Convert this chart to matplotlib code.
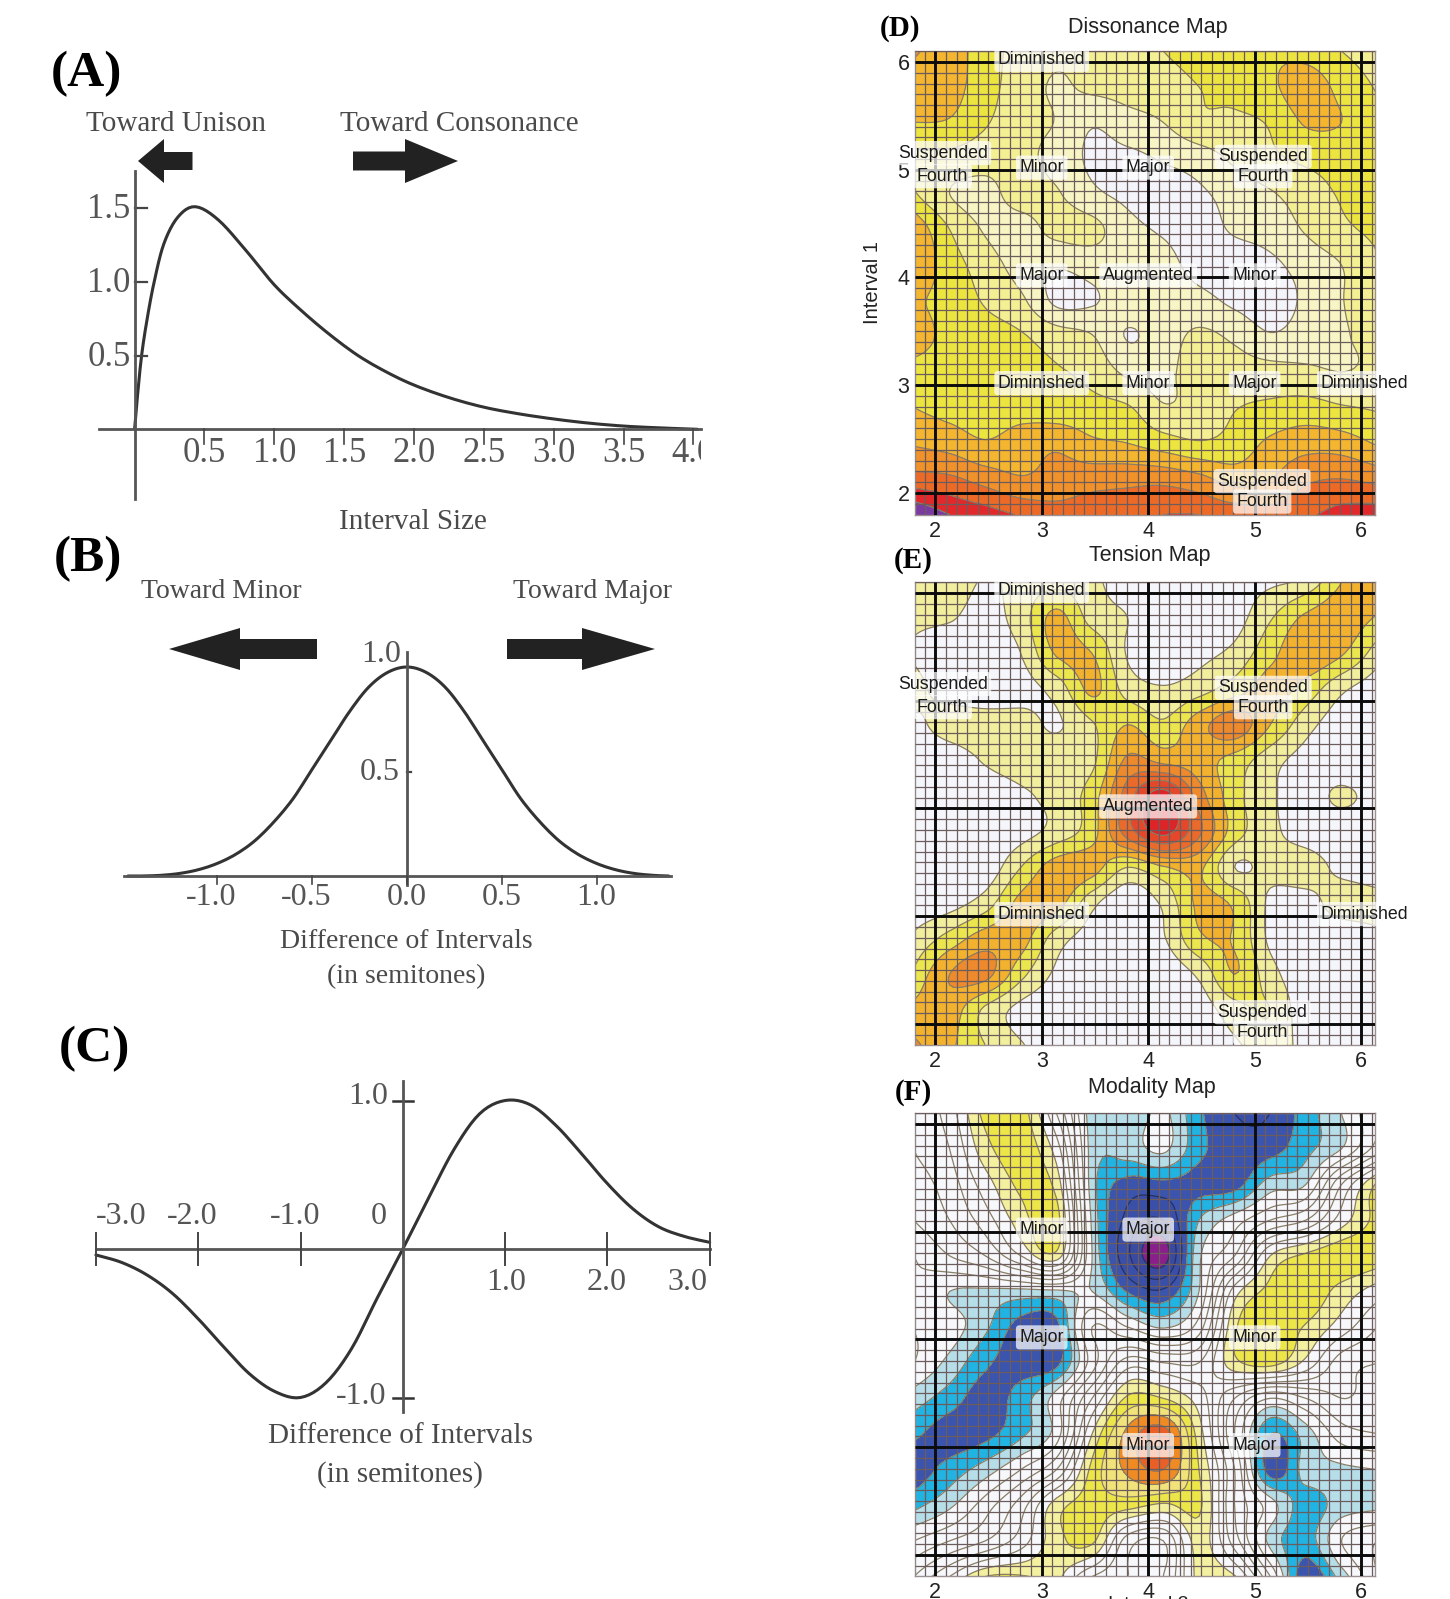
import numpy as np
import matplotlib
matplotlib.use("Agg")
import matplotlib.pyplot as plt
from matplotlib.patches import Polygon

W, H = 1450, 1599
SER = "Liberation Serif"
SAN = "Liberation Sans"

# ---------- curve data ----------
a_x = [0, .02, .05, .09, .14, .21, .31, .435, .6, .8, 1.0, 1.2, 1.4, 1.6, 1.8, 2.0, 2.25, 2.5, 2.75, 3.0, 3.25, 3.5, 3.75, 4.03]
a_y = [0, .22, .5, .75, 1.0, 1.26, 1.44, 1.51, 1.42, 1.21, .98, .80, .64, .50, .39, .30, .215, .15, .105, .07, .042, .022, .01, 0]
b_x = [-1.47, -1.4, -1.3, -1.2, -1.1, -1.0, -.9, -.8, -.7, -.6, -.5, -.4, -.3, -.2, -.1, 0, .1, .2, .3, .4, .5, .6, .7, .8, .9, 1.0, 1.1, 1.2, 1.3, 1.38]
b_y = [0, 0, .003, .012, .03, .06, .105, .17, .26, .37, .51, .65, .79, .905, .975, 1, .975, .905, .79, .65, .51, .37, .26, .17, .105, .06, .03, .012, .003, 0]
c_x = [-3, -2.75, -2.5, -2.25, -2, -1.75, -1.5, -1.25, -1, -.75, -.5, -.25, 0, .25, .5, .75, 1, 1.25, 1.5, 1.75, 2, 2.25, 2.5, 2.75, 3]
c_y = [-.04, -.09, -.175, -.30, -.47, -.66, -.84, -.96, -1.0, -.90, -.67, -.33, 0, .34, .67, .91, 1.0, .97, .83, .64, .44, .27, .15, .085, .045]

a_ticks_x = [0.5, 1.0, 1.5, 2.0, 2.5, 3.0, 3.5, 4.0]
a_ticks_y = [0.5, 1.0, 1.5]
b_ticks_x = [-1.0, -0.5, 0.0, 0.5, 1.0]
c_ticks_x = [-3.0, -2.0, -1.0, 1.0, 2.0, 3.0]

# ---------- map data (rows top to bottom) ----------
map_x = np.linspace(1.8, 6.15, 14)
map_y = np.linspace(6.10, 1.80, 14)

dissonance = [
 [5.1,4.5,3.5,2.6,2.2,2.3,2.6,3.0,3.4,3.7,3.9,3.6,3.0,2.4],
 [4.6,4.4,3.4,2.5,1.9,2.2,2.4,2.6,3.0,3.3,3.8,4.5,3.7,2.9],
 [4.0,3.9,3.1,2.4,1.95,1.1,1.6,2.0,2.8,2.8,3.1,4.1,4.0,3.3],
 [2.8,2.7,2.4,2.3,1.6,.85,.8,1.1,1.5,2.2,2.8,3.2,3.4,3.5],
 [3.1,2.0,1.7,2.4,2.1,1.2,.8,.6,.85,1.4,1.9,2.5,3.1,3.4],
 [4.8,3.0,1.9,1.6,2.3,2.3,1.3,.9,.7,1.1,1.4,2.1,2.8,3.2],
 [4.9,3.5,2.5,1.6,1.1,1.4,1.5,1.3,.7,.6,.8,1.4,2.0,2.9],
 [4.2,3.6,2.9,2.2,.8,.9,1.5,1.5,1.3,.8,.5,1.2,1.95,2.7],
 [4.5,3.7,3.4,3.1,2.5,2.05,.95,1.5,2.2,1.8,1.1,1.5,1.9,2.3],
 [3.7,3.6,3.5,3.3,3.1,2.7,1.8,1.7,2.6,2.5,2.4,2.2,2.0,2.2],
 [4.0,3.7,3.5,3.6,3.4,3.3,3.1,2.1,2.4,2.95,3.2,3.4,3.1,2.9],
 [4.9,4.6,4.1,4.5,4.8,4.2,4.0,3.5,3.1,3.4,4.2,4.6,4.5,3.9],
 [6.4,6.2,5.6,5.1,5.4,5.6,5.7,5.7,5.3,4.6,5.0,5.8,6.0,5.7],
 [9.0,8.0,7.5,6.9,6.4,6.6,6.7,7.0,7.0,6.7,6.4,6.8,7.4,7.6],
]
tension = [
 [1.5,1.6,.9,1.3,1.6,1.2,.5,.3,.4,.6,.8,1.3,3.0,4.0],
 [1.2,1.1,.6,1.5,3.3,1.6,1.0,.3,.3,.6,1.9,3.2,3.6,2.9],
 [.9,.3,.3,1.0,3.1,3.0,.9,.3,.7,1.3,2.7,3.7,3.1,1.5],
 [1.3,.6,.3,.6,1.4,3.2,1.6,1.1,1.6,2.5,3.4,2.6,1.2,.4],
 [.7,1.4,1.5,1.4,.9,1.9,3.0,2.2,3.6,4.6,3.0,1.4,.4,.2],
 [.2,.4,1.1,1.5,1.6,1.8,4.2,3.7,3.4,2.6,1.4,.6,.2,.2],
 [.1,.1,.3,.8,1.4,2.5,5.5,7.5,4.5,2.4,1.2,.5,1.2,.5],
 [.1,.1,.2,.6,1.4,2.6,5.5,7.3,5.2,2.5,1.3,.5,.3,.4],
 [.1,.1,.3,2.0,3.5,3.4,2.0,2.9,3.2,1.0,1.3,1.5,.7,.3],
 [.3,.6,1.5,3.3,3.4,1.3,.2,1.2,3.2,2.8,.8,.6,1.5,1.4],
 [1.2,2.4,3.5,3.4,1.5,.5,.2,.9,2.8,2.9,.8,.3,.2,.7],
 [2.2,4.0,4.3,2.3,.8,.2,.1,.2,1.2,3.0,1.4,.2,.1,.1],
 [3.3,3.5,1.8,.7,.3,.1,.1,.1,.4,1.6,2.0,.3,.1,.1],
 [4.2,3.2,2.0,1.1,.3,.1,.1,.1,.1,.8,1.6,.6,.1,.1],
]
modality = [
 [0,1.5,4.3,4.5,1.0,-3.5,-3.8,-2.8,-4.8,-6,-6,-4.5,-3,-1],
 [0,1.0,3.6,4.6,2.5,-3.4,-3.5,-2.8,-4.7,-5.6,-5.4,-4.3,-3,-.5],
 [-.5,.5,2.5,4.2,3.6,-3.5,-5.4,-5.3,-5.4,-5.4,-3.5,-3,1,4.2],
 [-1,0,1.5,3.5,4.4,-3.2,-6.3,-7,-4,-2.5,-1,0,2.5,4.4],
 [-2,-1,0,2,3.6,-3,-6.8,-8.5,-3.2,-1,3,4.2,4.8,4.6],
 [-2,-3,-3.2,-3.3,-3.2,-3,-5.1,-5.8,-3,2.5,4.3,4.7,3.6,2.5],
 [-2,-2.5,-3.8,-5.4,-5.3,-1,-2,-3.1,-1.5,3.8,4.6,3.9,2.5,1],
 [-2,-3.3,-4.8,-5.5,-5.3,-1.5,1.5,1,1,3.7,4.4,2.7,.5,0],
 [-3.5,-4.5,-5.5,-4.5,-2.5,1,4.2,4,2.5,0,-2,-1,0,-.5],
 [-4.8,-5.5,-5.3,-4.2,-2.5,3,6.3,7.5,3.5,-1,-5,-3.5,-1.5,-1],
 [-5.6,-4.6,-3.5,-2,0,4.3,6.2,7,4,0,-5.5,-3.6,-3.2,-3],
 [-4.3,-3.2,-1.5,.5,3.5,4.5,4.4,3.8,4.2,0,-2.5,-4.5,-3.5,-3.2],
 [-2,-1,0,1.5,3.6,4.2,.5,0,3.4,.5,-3.3,-4.5,-2,-1],
 [0,2,4,4.1,3.3,1,0,0,3.3,3.1,-1,-5.8,-3.5,-1],
]

d_levels = list(range(0, 10))
d_colors = ["#f4f5fb", "#f7f5c4", "#f3ef93", "#ede53f", "#f4b62e", "#f1912a", "#ec6a26", "#e2282a", "#7b3aa0"]
e_levels = [-1, 1, 2, 3, 4, 5, 6, 7, 10]
e_colors = ["#f4f6fb", "#f1ee9d", "#ebe64d", "#f3b22e", "#ee8a2c", "#e96a2a", "#e5472a", "#de2428"]
f_levels = [-11, -8, -7, -6, -5, -4, -3, -2, -1, 0, 1, 2, 3, 4, 5, 6, 7, 10]
f_colors = ["#8a1f8c", "#3a4aa0", "#3a4fa8", "#3b54ad", "#21b4e3", "#b6dee9",
            "#f6f8fc", "#f6f8fc", "#f6f8fc", "#f6f8fc", "#f6f8fc", "#f6f8fc",
            "#f3f0a0", "#ece649", "#f1e27a", "#f08a23", "#ea5f26"]

D_LABELS = [("Diminished", 3, 6), ("Minor", 3, 5), ("Major", 4, 5), ("Major", 3, 4), ("Augmented", 4, 4),
            ("Minor", 5, 4), ("Diminished", 3, 3), ("Minor", 4, 3), ("Major", 5, 3), ("Diminished", 6.03, 3)]
E_LABELS = [("Diminished", 3, 6), ("Augmented", 4, 4), ("Diminished", 3, 3), ("Diminished", 6.03, 3)]
F_LABELS = [("Minor", 3, 5), ("Major", 4, 5), ("Major", 3, 4), ("Minor", 5, 4), ("Minor", 4, 3), ("Major", 5, 3)]
D_SUS = [(2.07, 5, .155, -.06), (5.08, 5, .12, -.06), (5.07, 2, .11, -.08)]

# ---------- helpers ----------
def cr(a, n, axis=0):
    """Catmull-Rom display smoothing along one axis."""
    a = np.moveaxis(np.asarray(a, float), axis, 0)
    m = a.shape[0]
    t = np.linspace(0, m - 1, (m - 1) * n + 1)
    i = np.clip(np.floor(t).astype(int), 0, m - 2)
    u = (t - i).reshape((-1,) + (1,) * (a.ndim - 1))
    p0, p1, p2, p3 = a[np.clip(i - 1, 0, m - 1)], a[i], a[i + 1], a[np.clip(i + 2, 0, m - 1)]
    r = .5 * (2 * p1 + (p2 - p0) * u + (2 * p0 - 5 * p1 + 4 * p2 - p3) * u ** 2 + (3 * p1 - p0 - 3 * p2 + p3) * u ** 3)
    return np.moveaxis(r, 0, axis)

fig = plt.figure(figsize=(W / 100, H / 100), dpi=100, facecolor="white")

def box(l, t, r, b):
    return fig.add_axes([l / W, 1 - b / H, (r - l) / W, (b - t) / H])

ov = fig.add_axes([0, 0, 1, 1], zorder=5)
ov.set_xlim(0, W); ov.set_ylim(H, 0); ov.axis("off"); ov.patch.set_alpha(0)

def T(x, y, s, size, fam=SER, color="#4a4a4a", weight="normal", **kw):
    kw.setdefault("ha", "center"); kw.setdefault("va", "center")
    if fam == SER:
        y = y + 3
    ov.text(x, y, s, fontsize=size, family=fam, color=color, fontweight=weight, **kw)

def arrow(tip, base, end, yc, half_s, half_h):
    ov.add_patch(Polygon([(tip, yc), (base, yc - half_h), (base, yc - half_s), (end, yc - half_s),
                          (end, yc + half_s), (base, yc + half_s), (base, yc + half_h)],
                         closed=True, fc="#222222", ec="none"))

def curve_axes(l, t, r, b, x0, xs, y0, ys):
    ax = box(l, t, r, b)
    ax.set_xlim((l - x0) / xs, (r - x0) / xs)
    ax.set_ylim((y0 - b) / ys, (y0 - t) / ys)
    ax.patch.set_alpha(0)
    for s in ("top", "right"):
        ax.spines[s].set_visible(False)
    for s in ("bottom", "left"):
        ax.spines[s].set_position(("data", 0))
        ax.spines[s].set_color("#555555")
        ax.spines[s].set_linewidth(2.0)
    ax.tick_params(length=0, labelbottom=False, labelleft=False, color="#444444")
    return ax

def curve(ax, x, y):
    ax.plot(cr(x, 6), cr(y, 6), color="#333333", lw=2.2, solid_capstyle="round", clip_on=False)

LBL = "#555555"
# ---- Panel A
ax = curve_axes(99, 171, 701, 499, 134.6, 139.7, 429.3, 147.4)
curve(ax, a_x, a_y)
ax.set_xticks(a_ticks_x); ax.set_yticks(a_ticks_y)
ax.tick_params(axis="x", direction="in", length=0)
ax.tick_params(axis="y", direction="inout", length=0)
for v in a_ticks_x:
    ax.plot([v, v], [0, -.1], color="#444444", lw=1.2, clip_on=False, zorder=6)
    ax.text(v, -.165, f"{v:.1f}", fontsize=25, family=SER, color=LBL, ha="center", va="center", clip_on=True)
for v in a_ticks_y:
    ax.plot([0, .09], [v, v], color="#444444", lw=1.6)
    ax.text(-.03, v - .01, f"{v:.1f}", fontsize=25, family=SER, color=LBL, ha="right", va="center")
T(86, 71, "(A)", 37, color="black", weight="bold")
T(176, 121, "Toward Unison", 21)
T(459, 121, "Toward Consonance", 21)
arrow(138, 164, 192.5, 161, 9, 22)
arrow(458, 405, 353, 161, 9.5, 22)
T(413, 519, "Interval Size", 21)

# ---- Panel B
ax = curve_axes(124.4, 652, 671, 885, 406.9, 189.7, 876, 209)
curve(ax, b_x, b_y)
for v in b_ticks_x:
    ax.plot([v, v], [0, -.04], color="#444444", lw=1.2, zorder=6)
    ax.annotate(f"{v:.1f}", (v, 0), xytext=(-6 if v < 0 else 0, -22), textcoords="offset pixels",
                fontsize=23, family=SER, color=LBL, ha="center", va="center", annotation_clip=False)
ax.plot([0, .02], [.5, .5], color="#444444", lw=1.6)
T(381, 652, "1.0", 23, color=LBL)
T(380, 769, "0.5", 23, color=LBL)
T(88, 556, "(B)", 37, color="black", weight="bold")
T(221, 589, "Toward Minor", 20)
T(593, 589, "Toward Major", 20)
arrow(169, 240, 317, 649, 10, 21)
arrow(655, 582, 507, 649, 10, 21)
T(406, 938, "Difference of Intervals", 20)
T(406, 974, "(in semitones)", 20)

# ---- Panel C
ax = curve_axes(96.9, 1081, 709.7, 1412, 402.8, 102.3, 1249, 148.5)
curve(ax, c_x, c_y)
for v in c_ticks_x:
    ax.plot([v, v], [-.11, .11], color="#444444", lw=1.4, clip_on=False, zorder=6)
for v in (-1.0, 1.0):
    ax.plot([-.1, .1], [v, v], color="#333333", lw=1.8)
for v, x in zip(c_ticks_x[:3], (121, 192, 295)):
    T(x, 1214, f"{v:.1f}", 23, color=LBL)
T(379, 1214, "0", 23, color=LBL)
for v, x in zip(c_ticks_x[3:], (506, 607, 687)):
    T(x, 1280, f"{v:.1f}", 23, color=LBL)
T(368, 1094, "1.0", 23, color=LBL)
T(361, 1393, "-1.0", 23, color=LBL)
T(94, 1046, "(C)", 37, color="black", weight="bold")
T(400, 1433, "Difference of Intervals", 21)
T(400, 1472, "(in semitones)", 21)

# ---- Maps
def draw_map(top, bottom, z, levels, colors, labels, sus, title, letter, title_y, letter_x, letter_y, title_x, yt=False):
    ax = box(915, top, 1375, bottom)
    xx = cr(map_x, 10)
    yy = cr(map_y, 10)
    zz = cr(cr(z, 10, axis=0), 10, axis=1)
    ax.contourf(xx, yy, zz, levels=levels, colors=colors, zorder=1)
    ax.contour(xx, yy, zz, levels=levels[1:-1],
               colors=["#27305f" if l < -5 else "#8a7f66" for l in levels[1:-1]],
               linestyles="solid", linewidths=.9, zorder=2)
    ax.set_xlim(1.81, 6.13)
    ax.set_ylim(2 - (bottom - (493 + (top - 51))) / 107.7, 6 + 11 / 107.7)
    ax.vlines(np.arange(1.8, 6.15, .1), *ax.get_ylim(), color="#6d5c5c", lw=.9, zorder=3)
    ax.hlines(np.arange(1.9, 6.15, .1), *ax.get_xlim(), color="#6d5c5c", lw=.9, zorder=3)
    ax.vlines(np.arange(2, 7), *ax.get_ylim(), color="#0c0c0c", lw=2.1, zorder=4)
    ax.hlines(np.arange(2, 7), *ax.get_xlim(), color="#0c0c0c", lw=2.1, zorder=4)
    ax.set_xticks(np.arange(2, 7))
    ax.set_yticks(np.arange(2, 7))
    ax.tick_params(length=0, labelsize=15.5, labelfontfamily=SAN, pad=4, labelleft=yt, labelcolor="#222222")
    for s in ax.spines.values():
        s.set_color("#9a9090"); s.set_linewidth(1.0)
    bb = dict(boxstyle="round,pad=0.2", fc="white", ec="none", alpha=.72)
    for name, x, y in labels:
        ax.text(x, y + .02, name, fontsize=12.8, family=SAN, color="#1a1a1a", ha="center", va="center",
                bbox=bb, zorder=6, clip_on=False)
    for x, y, d1, d2 in sus:
        ax.text(x, y + d1, "Suspended", fontsize=12.8, family=SAN, color="#1a1a1a", ha="center", va="center",
                bbox=bb, zorder=6, clip_on=False)
        ax.text(x, y + d2, "Fourth", fontsize=12.8, family=SAN, color="#1a1a1a", ha="center", va="center",
                bbox=bb, zorder=6, clip_on=False)
    T(title_x, title_y + 3, title, 15.5, fam=SAN, color="#222222")
    T(letter_x, letter_y - 2, letter, 21, color="black", weight="bold")
    return ax

draw_map(51, 515, dissonance, d_levels, d_colors, D_LABELS, D_SUS, "Dissonance Map", "(D)", 24, 900, 27, 1148, yt=True)
draw_map(582, 1045, tension, e_levels, e_colors, E_LABELS, D_SUS, "Tension Map", "(E)", 552, 913, 560, 1150)
draw_map(1113, 1576, modality, f_levels, f_colors, F_LABELS, [], "Modality Map", "(F)", 1084, 913, 1091, 1152)
T(873, 283, "Interval 1", 14.5, fam=SAN, color="#222222", rotation=90)
T(1148, 1596, "Interval 2", 14, fam=SAN, color="#222222", va="top")

fig.savefig("out.png", dpi=100, facecolor="white")
